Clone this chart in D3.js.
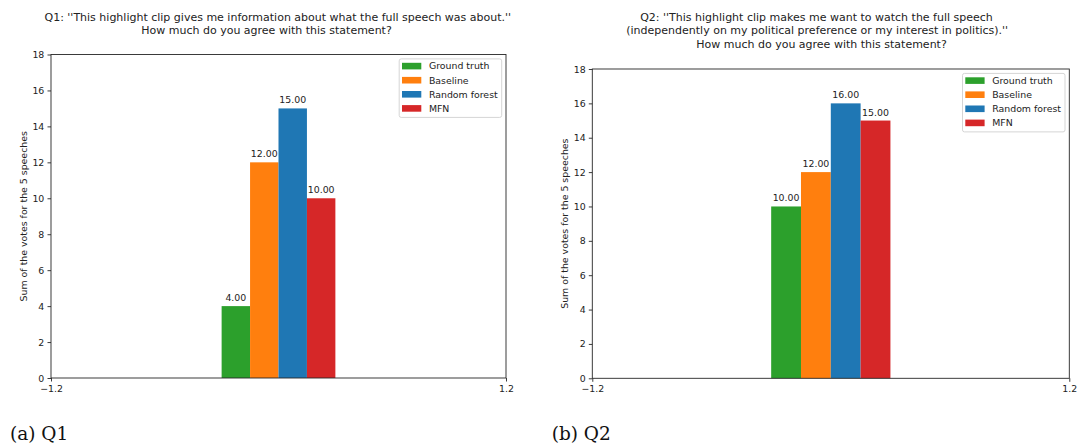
<!DOCTYPE html>
<html>
<head>
<meta charset="utf-8">
<script src="https://cdn.jsdelivr.net/npm/d3@7"></script>
<style>
  html, body { margin: 0; padding: 0; background: #fff; }
  svg { display: block; }
  text { font-family: "DejaVu Sans", sans-serif; fill: #222; }
  .caption { font-family: "DejaVu Serif", serif; fill: #111; }
</style>
</head>
<body>
<svg id="fig" width="1078" height="446"></svg>
<script>
// Series shared by both panels
const series = ["Ground truth", "Baseline", "Random forest", "MFN"];
const seriesColors = ["#2ca02c", "#ff7f0e", "#1f77b4", "#d62728"];

// Summed votes per question
const q1Values = [4, 12, 15, 10];
const q2Values = [10, 12, 16, 15];

// Titles, one entry per line
const q1Title = [
  "Q1: ''This highlight clip gives me information about what the full speech was about.''",
  "How much do you agree with this statement?"
];
const q2Title = [
  "Q2: ''This highlight clip makes me want to watch the full speech",
  "(independently on my political preference or my interest in politics).''",
  "How much do you agree with this statement?"
];

// Axis ticks
const yTicks = [0, 2, 4, 6, 8, 10, 12, 14, 16, 18];
const xTicks = [-1.2, 1.2];
const yLabel = "Sum of the votes for the 5 speeches";

const svg = d3.select("#fig");
const fmt = d3.format(".2f");
const xFmt = d3.format(".1f");

function drawPanel(cfg) {
  const g = svg.append("g");
  const x = d3.scaleLinear().domain([-1.2, 1.2]).range([cfg.left, cfg.right]);
  const y = d3.scaleLinear().domain([0, 18]).range([cfg.bottom, cfg.top]);
  const barW = 0.15;
  const start = -2 * barW;

  // bars
  g.selectAll("rect.bar").data(cfg.values).enter().append("rect")
    .attr("class", "bar")
    .attr("x", (d, i) => x(start + i * barW))
    .attr("width", (d, i) => x(start + (i + 1) * barW) - x(start + i * barW))
    .attr("y", d => y(d))
    .attr("height", d => y(0) - y(d))
    .attr("fill", (d, i) => seriesColors[i]);

  // value labels
  g.selectAll("text.val").data(cfg.values).enter().append("text")
    .attr("class", "val")
    .attr("x", (d, i) => x(start + (i + 0.5) * barW))
    .attr("y", d => y(d) - 5)
    .attr("text-anchor", "middle")
    .style("font-size", "9.4px")
    .text(d => fmt(d));

  // axes
  const yAxis = d3.axisLeft(y).tickValues(yTicks).tickSize(3.5).tickPadding(3.2)
    .tickFormat(d3.format("d"));
  const ya = g.append("g").attr("transform", `translate(${cfg.left},0)`).call(yAxis);
  const xAxis = d3.axisBottom(x).tickValues(xTicks).tickSize(3.5).tickPadding(3.5)
    .tickFormat(d => xFmt(d));
  const xa = g.append("g").attr("transform", `translate(0,${cfg.bottom})`).call(xAxis);
  [ya, xa].forEach(a => {
    a.select(".domain").remove();
    a.selectAll("line").attr("stroke", "#262626").attr("stroke-width", 0.9);
    a.selectAll("text").style("font-size", "9.4px").style("font-family", "DejaVu Sans").attr("fill", "#222");
  });

  // frame
  g.append("rect")
    .attr("x", cfg.left).attr("y", cfg.top)
    .attr("width", cfg.right - cfg.left).attr("height", cfg.bottom - cfg.top)
    .attr("fill", "none").attr("stroke", "#262626").attr("stroke-width", 0.9);

  // y label
  g.append("text")
    .attr("transform", `translate(${cfg.yLabelX},${(cfg.top + cfg.bottom) / 2}) rotate(-90)`)
    .attr("text-anchor", "middle")
    .style("font-size", "9.4px")
    .text(yLabel);

  // title
  cfg.title.forEach((line, i) => {
    g.append("text")
      .attr("x", cfg.titleX[i])
      .attr("y", 21 + i * 13.4)
      .attr("text-anchor", "middle")
      .style("font-size", "11px")
      .text(line);
  });

  // legend
  const lw = 102.5, lh = 58.5;
  const lx = cfg.right - 4.3 - lw, ly = cfg.top + 4.4;
  const leg = g.append("g");
  leg.append("rect")
    .attr("x", lx).attr("y", ly).attr("width", lw).attr("height", lh)
    .attr("rx", 2).attr("fill", "#fff").attr("fill-opacity", 0.8)
    .attr("stroke", "#d5d5d5").attr("stroke-width", 1);
  series.forEach((s, i) => {
    const cy = ly + 7.2 + i * 14.1;
    leg.append("rect")
      .attr("x", lx + 2.8).attr("y", cy - 3.3)
      .attr("width", 19.3).attr("height", 6.6)
      .attr("fill", seriesColors[i]);
    leg.append("text")
      .attr("x", lx + 29.7).attr("y", cy + 3.3)
      .style("font-size", "9.4px")
      .text(s);
  });

  // caption
  svg.append("text").attr("class", "caption")
    .attr("x", cfg.captionX).attr("y", 440)
    .style("font-size", "18.5px")
    .text(cfg.caption);
}

drawPanel({
  left: 51, right: 506, top: 54.5, bottom: 378,
  values: q1Values, title: q1Title, titleX: [277.8, 266.5],
  yLabelX: 26.5, caption: "(a) Q1", captionX: 10
});
drawPanel({
  left: 592.3, right: 1069.3, top: 69, bottom: 378.3,
  values: q2Values, title: q2Title, titleX: [816.5, 817.2, 821.5],
  yLabelX: 567.5, caption: "(b) Q2", captionX: 551.7
});
</script>
</body>
</html>
